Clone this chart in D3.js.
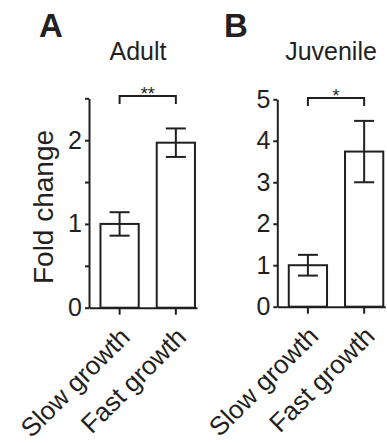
<!DOCTYPE html>
<html>
<head>
<meta charset="utf-8">
<script src="https://cdn.jsdelivr.net/npm/d3@7"></script>
<style>
  body { margin: 0; background: #fff; }
  svg text { font-family: "Liberation Sans", Arial, Helvetica, sans-serif; fill: #231f20; }
</style>
</head>
<body>
<div id="chart"></div>
<script>
// values
const groups = ["Slow growth", "Fast growth"];
const adultMean = [1.0, 1.97];
const adultErr = [0.14, 0.17];
const juvenileMean = [1.0, 3.74];
const juvenileErr = [0.25, 0.74];
const adultTicks = [0, 0.5, 1, 1.5, 2, 2.5];
const adultLabels = [0, 1, 2];
const juvenileTicks = [0, 1, 2, 3, 4, 5];

const svg = d3.select('#chart')
    .append('svg')
    .attr('width', 387)
    .attr('height', 443);

const ink = '#231f20';

// draws one panel
const drawPanel = (opt) => {
    const g = svg.append('g');

    const y = d3.scaleLinear()
        .domain([0, opt.yMax])
        .range([opt.bottom, opt.top]);

    const x = d3.scaleBand()
        .domain(groups)
        .range([opt.left, opt.left + 108])
        .paddingInner(0.32)
        .paddingOuter(0.12)
        .align(0.85);

    const yAxis = d3.axisLeft(y)
        .tickValues(opt.ticks)
        .tickSize(4)
        .tickSizeOuter(0)
        .tickPadding(3)
        .tickFormat(d => opt.labels.includes(d) ? d : '');

    const ya = g.append('g')
        .attr('transform', `translate(${opt.left},0)`)
        .call(yAxis);
    ya.selectAll('text').style('font-size', '25px');

    // bars
    g.selectAll('rect.bar')
        .data(opt.mean)
        .enter()
        .append('rect')
        .attr('class', 'bar')
        .attr('x', (d, i) => x(groups[i]))
        .attr('width', x.bandwidth())
        .attr('y', d => y(d))
        .attr('height', d => opt.bottom - y(d))
        .style('fill', '#fff')
        .style('stroke', ink)
        .style('stroke-width', 2);

    // error bars
    opt.mean.forEach((m, i) => {
        const cx = x(groups[i]) + x.bandwidth() / 2;
        const e = opt.err[i];
        g.append('line')
            .attr('x1', cx).attr('x2', cx)
            .attr('y1', y(m + e)).attr('y2', y(m - e));
        [m + e, m - e].forEach(v => {
            g.append('line')
                .attr('x1', cx - 10).attr('x2', cx + 10)
                .attr('y1', y(v)).attr('y2', y(v));
        });
    });

    g.append('g')
        .attr('transform', `translate(0,${opt.bottom})`)
        .call(d3.axisBottom(x).tickSize(7).tickSizeOuter(0).tickFormat(''));

    // rotated group labels
    groups.forEach(name => {
        const cx = x(name) + x.bandwidth() / 2 + 12;
        g.append('text')
            .attr('transform', `translate(${cx},${opt.bottom + 31}) rotate(-45)`)
            .attr('text-anchor', 'end')
            .style('font-size', '26px')
            .text(name);
    });

    // significance bracket
    const c1 = x(groups[0]) + x.bandwidth() / 2;
    const c2 = x(groups[1]) + x.bandwidth() / 2;
    g.append('path')
        .attr('d', `M${c1},${opt.brY + 8}V${opt.brY}H${c2}V${opt.brY + 8}`)
        .style('fill', 'none');
    g.append('text')
        .attr('x', (c1 + c2) / 2)
        .attr('y', opt.brY + 4)
        .attr('text-anchor', 'middle')
        .style('font-size', '18px')
        .text(opt.stars);

    g.append('text')
        .attr('x', opt.titleX)
        .attr('y', 60)
        .attr('text-anchor', 'middle')
        .style('font-size', '25px')
        .text(opt.title);

    g.append('text')
        .attr('x', opt.letterX)
        .attr('y', 37)
        .style('font-size', '33px')
        .style('font-weight', 'bold')
        .text(opt.letter);

    g.selectAll('line, path')
        .style('stroke', ink)
        .style('stroke-width', 2);
    g.selectAll('.domain').style('fill', 'none');

    return g;
};

drawPanel({
    left: 89, top: 98.3, bottom: 307.7, yMax: 2.5,
    ticks: adultTicks, labels: adultLabels,
    mean: adultMean, err: adultErr,
    brY: 96, stars: '**', title: 'Adult', titleX: 138,
    letter: 'A', letterX: 39
});

drawPanel({
    left: 277.3, top: 99.3, bottom: 306.7, yMax: 5,
    ticks: juvenileTicks, labels: juvenileTicks,
    mean: juvenileMean, err: juvenileErr,
    brY: 98, stars: '*', title: 'Juvenile', titleX: 331,
    letter: 'B', letterX: 224
});

svg.append('text')
    .attr('transform', 'translate(53,207) rotate(-90)')
    .attr('text-anchor', 'middle')
    .style('font-size', '28px')
    .text('Fold change');
</script>
</body>
</html>
